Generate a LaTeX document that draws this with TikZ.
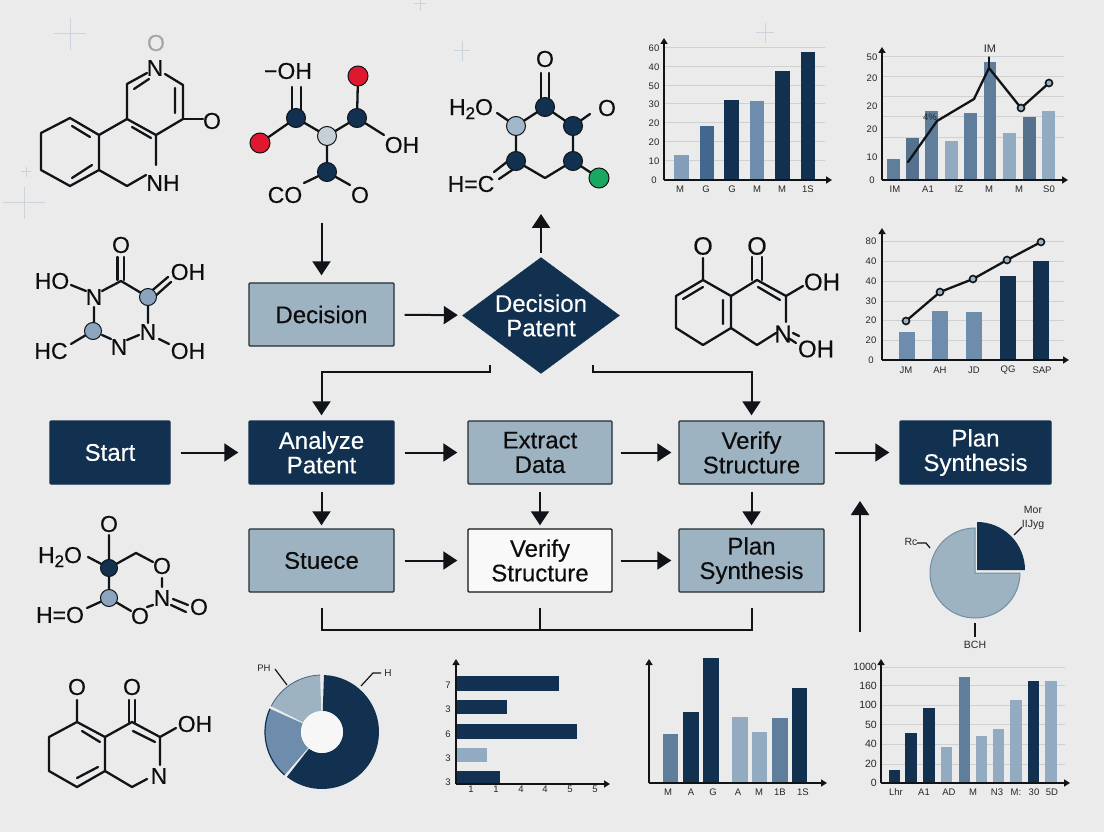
\documentclass[tikz,border=0pt]{standalone}
\usepackage{fontspec}
\setmainfont{Liberation Sans}
\newfontfamily\heavyfont[FakeBold=0.35]{Liberation Sans}
\usetikzlibrary{arrows.meta,shapes.geometric,calc}
\definecolor{cBg}{HTML}{EAEBEA}
\definecolor{cNavy}{HTML}{12304F}
\definecolor{cBox}{HTML}{9DB3C2}
\definecolor{cMid}{HTML}{5F7E9C}
\definecolor{cSteel}{HTML}{6E8CAC}
\definecolor{cDeep}{HTML}{44678E}
\definecolor{cLight}{HTML}{93ABC0}
\definecolor{cLine}{HTML}{101418}
\definecolor{cGrid}{HTML}{CFD1D1}
\definecolor{cPlus}{HTML}{CBD4DC}
\definecolor{cRed}{HTML}{E0182F}
\definecolor{cGreen}{HTML}{18A860}
\definecolor{cGrey}{HTML}{C5D0D8}
\definecolor{cAtom}{HTML}{8CA5BE}
\tikzset{
  flowbox/.style={draw=cLine!85!cBox,line width=1.4pt,fill=cBox,rounded corners=1pt,text=black!95,
    align=center,font=\heavyfont\fontsize{24}{24.5}\selectfont,inner sep=0pt},
  darkbox/.style={flowbox,draw=cNavy,fill=cNavy,text=white},
  whitebox/.style={flowbox,fill=white!70!cBg,draw=cLine},
  flow/.style={line width=2pt,draw=cLine,-{Triangle[length=14pt,width=18pt]},shorten >=10pt,shorten <=10pt},
  link/.style={line width=2pt,draw=cLine},
  bond/.style={line width=2.3pt,draw=cLine,line join=round,line cap=round},
  atomtext/.style={font=\heavyfont\fontsize{23}{23}\selectfont,inner sep=0pt,text=black!95},
  dot/.style={circle,draw=cLine,line width=1pt,minimum size=#1,inner sep=0pt},
  tick/.style={font=\fontsize{9.5}{10}\selectfont,inner sep=0pt,text=black!85},
  axis/.style={line width=1.6pt,draw=cLine,-{Triangle[length=6pt,width=7pt]}},
  gridl/.style={line width=1pt,draw=cGrid},
  plusmark/.style={line width=1pt,draw=cPlus},
  leader/.style={line width=1.2pt,draw=cLine},
}
\newcommand\bars[2]{\foreach \a/\b/\t/\c in {#2}{\fill[\c] (\a,\t) rectangle (\b,#1);}}
\newcommand\xlab[3]{\foreach \p/\s [count=\i] in {#3}{\node[tick] (#1x\i) at (\p,#2) {\s};}}
\newcommand\ylab[3]{\foreach \p/\s [count=\i] in {#3}{\node[tick] (#1y\i) at (#2,\p) {\s};}}
\newcommand\hgrid[3]{\foreach \p in {#3}{\draw[gridl] (#1,\p) -- (#2,\p);}}
\newcommand\plusat[4]{\draw[plusmark] (#1-#3,#2) -- (#1+#3,#2) (#1,#2-#4) -- (#1,#2+#4);}
\begin{document}
\begin{tikzpicture}[x=1pt,y=-1pt]
\useasboundingbox (0,0) rectangle (1104,832);
\fill[cBg] (0,0) rectangle (1104,832);
% faint marks
\plusat{70}{34}{16}{16}
\plusat{420}{4}{6}{7}
\plusat{462}{51}{8}{10}
\plusat{24}{203}{21}{16}
\plusat{26}{172}{5}{5}
\plusat{765}{33}{9}{10}

% ---------- molecule 1
\draw[bond] (99,135) -- (70,118) -- (41,133) -- (41,170) -- (70,186) -- (99,170) -- cycle;
\draw[bond] (72,126) -- (90,137) (72,178) -- (92,165);
\draw[bond] (99,135) -- (127,119) -- (127,84) -- (147,73);
\draw[bond] (134,89) -- (149,79);
\draw[bond] (165,74) -- (183,85) -- (183,119) -- (156,135) -- (127,119);
\draw[bond] (175,88) -- (175,113) (132,127) -- (151,138);
\draw[bond] (156,135) -- (156,165) (99,170) -- (127,186) -- (146,175);
\draw[bond] (183,119) -- (203,119);
\node[atomtext,text=gray!70] (m1o1) at (156,43) {O};
\node[atomtext] (m1n) at (155,68) {N};
\node[atomtext] (m1o2) at (212,121) {O};
\node[atomtext] (m1nh) at (163,183) {NH};

% ---------- molecule 2
\draw[bond] (260,143) -- (296,118) -- (327,136) -- (357,118) -- (358,76);
\draw[bond] (327,136) -- (327,172) -- (304,183) (327,172) -- (350,185);
\draw[bond] (357,118) -- (384,135);
\draw[bond] (292,87) -- (292,112) (301,87) -- (301,112);
\node[dot=19pt,fill=cNavy] (m2a) at (296,118) {};
\node[dot=19pt,fill=cNavy] (m2b) at (357,118) {};
\node[dot=19pt,fill=cNavy] (m2c) at (327,172) {};
\node[dot=19pt,fill=cGrey] (m2d) at (327,136) {};
\node[dot=20pt,fill=cRed] (m2e) at (260,143) {};
\node[dot=20pt,fill=cRed] (m2f) at (358,76) {};
\node[atomtext] (m2g) at (288,71) {−OH};
\node[atomtext] (m2h) at (402,145) {OH};
\node[atomtext] (m2i) at (285,195) {CO};
\node[atomtext] (m2j) at (360,195) {O};

% ---------- molecule 3
\draw[bond] (497,113) -- (516,126) -- (545,107) -- (573,126) -- (590,114);
\draw[bond] (573,126) -- (573,161) -- (545,178) -- (516,161) -- (516,126);
\draw[bond] (541,73) -- (541,100) (549,73) -- (549,100);
\draw[bond] (512,158) -- (494,172) (518,166) -- (499,179);
\draw[bond] (573,161) -- (599,178);
\node[dot=19pt,fill=cNavy] (m3a) at (545,107) {};
\node[dot=19pt,fill=cAtom!80!white] (m3b) at (516,126) {};
\node[dot=19pt,fill=cNavy] (m3c) at (573,126) {};
\node[dot=19pt,fill=cNavy] (m3d) at (516,161) {};
\node[dot=19pt,fill=cNavy] (m3e) at (573,161) {};
\node[dot=20pt,fill=cGreen] (m3f) at (599,178) {};
\node[atomtext] (m3g) at (545,59) {O};
\node[atomtext] (m3h) at (471,109) {H\raisebox{-4pt}{\fontsize{17}{17}\selectfont 2}O};
\node[atomtext] (m3i) at (607,108) {O};
\node[atomtext] (m3j) at (471,184) {H=C};

% ---------- molecule 4
\draw[bond] (117.5,257) -- (117.5,280) (124,257) -- (124,280);
\draw[bond] (102,291) -- (121,281) -- (148,297) -- (148,323);
\draw[bond] (71,285) -- (86,291);
\draw[bond] (148,294) -- (168,277) (152,299) -- (171,282);
\draw[bond] (94,307) -- (94,329) (102,335) -- (111,339) (127,340) -- (139,335);
\draw[bond] (159,339) -- (169,344) (86,335) -- (71,344);
\node[dot=17pt,fill=cAtom] (m4a) at (148,297) {};
\node[dot=17pt,fill=cAtom] (m4b) at (93,331) {};
\node[atomtext] (m4c) at (121,245) {O};
\node[atomtext] (m4d) at (94,297) {N};
\node[atomtext] (m4e) at (188,272) {OH};
\node[atomtext] (m4f) at (52,281) {HO};
\node[atomtext] (m4g) at (148,332) {N};
\node[atomtext] (m4h) at (188,351) {OH};
\node[atomtext] (m4i) at (119,347) {N};
\node[atomtext] (m4j) at (51,351) {HC};

% ---------- molecule 5
\draw[bond] (703,258) -- (703,280) -- (731,296) -- (731,328) -- (703,345) -- (676,328) -- (676,296) -- (703,280);
\draw[bond] (731,296) -- (757,280) -- (786,296) -- (786,322);
\draw[bond] (731,328) -- (757,345) -- (776,333);
\draw[bond] (752,257) -- (752,280) (762,257) -- (762,280);
\draw[bond] (683,299) -- (703,287) (723,300) -- (723,324) (758,287) -- (780,300);
\draw[bond] (786,296) -- (803,286);
\draw[bond] (793,333) -- (799,336) (790,339) -- (796,343);
\node[atomtext,font=\heavyfont\fontsize{25}{25}\selectfont] (m5a) at (703,246) {O};
\node[atomtext,font=\heavyfont\fontsize{25}{25}\selectfont] (m5b) at (757,246) {O};
\node[atomtext,font=\heavyfont\fontsize{24}{24}\selectfont] (m5c) at (822,282) {OH};
\node[atomtext,font=\heavyfont\fontsize{24}{24}\selectfont] (m5d) at (783,334) {N};
\node[atomtext,font=\heavyfont\fontsize{24}{24}\selectfont] (m5e) at (816,349) {OH};

% ---------- molecule 6
\draw[bond] (109,535) -- (109,598) -- (87,608) (109,598) -- (131,611);
\draw[bond] (88,557) -- (109,568) -- (136,553) -- (153,562);
\draw[bond] (162,578) -- (162,587) (147,607) -- (153,605);
\draw[bond] (173,599) -- (188,605) (171,605) -- (186,612);
\node[dot=17pt,fill=cNavy] (m6a) at (109,568) {};
\node[dot=17pt,fill=cAtom] (m6b) at (109,598) {};
\node[atomtext] (m6c) at (109,524) {O};
\node[atomtext] (m6d) at (60,557) {H\raisebox{-4pt}{\fontsize{17}{17}\selectfont 2}O};
\node[atomtext] (m6e) at (60,615) {H=O};
\node[atomtext] (m6f) at (162,566) {O};
\node[atomtext] (m6g) at (162,598) {N};
\node[atomtext] (m6h) at (140,616) {O};
\node[atomtext] (m6i) at (199,607) {O};

% ---------- molecule 7
\draw[bond] (77,700) -- (77,722) -- (105,737) -- (105,771) -- (77,787) -- (49,771) -- (49,737) -- (77,722);
\draw[bond] (105,737) -- (132,722) -- (160,737) -- (160,765);
\draw[bond] (105,771) -- (132,787) -- (147,779);
\draw[bond] (129,700) -- (129,722) (135,700) -- (135,722);
\draw[bond] (82,731) -- (100,742) (77,778) -- (98,767) (133,731) -- (155,742);
\draw[bond] (160,737) -- (176,728);
\node[atomtext] (m7a) at (77,687) {O};
\node[atomtext] (m7b) at (132,687) {O};
\node[atomtext] (m7c) at (195,724) {OH};
\node[atomtext] (m7d) at (159,776) {N};

% ---------- chart 1
\hgrid{664}{825}{48,67,86,104,123,142,161}
\bars{180}{674/689/155/cSteel!85!white,700/714/126/cDeep,724/739/100/cNavy,750/764/101/cSteel,775/790/71/cNavy,801/815/52/cNavy}
\coordinate (c1o) at (664,180); \coordinate (c1t) at (664,38); \coordinate (c1r) at (832,180);
\draw[axis] (c1o) -- (c1t); \draw[axis] (c1o) -- (c1r);
\ylab{c1}{654}{48/60,67/40,86/50,104/30,123/20,142/20,161/10,180/0}
\xlab{c1}{189}{680/M,706/G,732/G,757/M,782/M,808/1S}

% ---------- chart 2
\hgrid{882}{1064}{57,77,97,117,138}
\bars{180}{887/900/159/cMid,906/919/138/cMid!90!black,925/938/111/cMid,945/958/141/cLight,964/977/113/cMid,984/996/62/cMid,1003/1016/133/cLight,1023/1036/117/cMid!90!black,1042/1055/111/cLight}
\coordinate (c2o) at (882,180); \coordinate (c2t) at (882,47); \coordinate (c2r) at (1068,180);
\draw[axis] (c2o) -- (c2t); \draw[axis] (c2o) -- (c2r);
\draw[bond] (908,162) -- (937,121) -- (974,99) -- (989,68) -- (1021,108) -- (1049,83);
\draw[bond,line width=1.2pt] (989,57) -- (989,68);
\node[dot=7pt,fill=cBox,line width=1.6pt] (c2p1) at (1021,108) {};
\node[dot=7pt,fill=cBox,line width=1.6pt] (c2p2) at (1049,83) {};
\node[tick,font=\fontsize{11}{11}\selectfont] (c2m) at (990,49) {IM};
\node[tick] (c2n) at (930,117) {4\%};
\ylab{c2}{872}{57/50,78/20,106/20,129/20,157/10,180/0}
\xlab{c2}{189}{895/IM,928/A1,959/IZ,989/M,1019/M,1049/S0}

% ---------- chart 3
\hgrid{882}{1064}{241,261,281,301,320,340}
\bars{360}{899/915/332/cSteel,932/948/311/cSteel,966/982/312/cSteel,1000/1016/276/cNavy,1033/1049/261/cNavy}
\coordinate (c3o) at (882,360); \coordinate (c3t) at (882,228); \coordinate (c3r) at (1069,360);
\draw[axis] (c3o) -- (c3t); \draw[axis] (c3o) -- (c3r);
\draw[bond] (906,321) -- (940,292) -- (973,279) -- (1007,260) -- (1041,242);
\node[dot=7pt,fill=cBox,line width=1.6pt] (c3p1) at (906,321) {};
\node[dot=7pt,fill=cBox,line width=1.6pt] (c3p2) at (940,292) {};
\node[dot=7pt,fill=cBox,line width=1.6pt] (c3p3) at (973,279) {};
\node[dot=7pt,fill=cBox,line width=1.6pt] (c3p4) at (1007,260) {};
\node[dot=7pt,fill=cBox,line width=1.6pt] (c3p5) at (1041,242) {};
\ylab{c3}{871}{241/80,261/40,281/40,301/30,320/20,340/20,360/0}
\xlab{c3}{370}{906/JM,940/AH,974/JD,1008/QG,1042/SAP}

% ---------- horizontal bars
\fill[cNavy] (456,676) rectangle (559,691);
\fill[cNavy] (456,700) rectangle (507,714);
\fill[cNavy] (456,724) rectangle (577,739);
\fill[cLight] (456,748) rectangle (487,762);
\fill[cNavy] (456,771) rectangle (500,784);
\coordinate (c4o) at (456,784); \coordinate (c4t) at (456,659); \coordinate (c4r) at (610,784);
\draw[axis] (c4o) -- (c4t); \draw[axis] (c4o) -- (c4r);
\ylab{c4}{448}{685/7,709/3,734/6,758/3,782/3}
\xlab{c4}{789}{471/1,496/1,521/4,545/4,570/5,595/5}

% ---------- chart 5
\bars{783}{663/678/734/cMid,683/699/712/cNavy,703/719/658/cNavy,732/748/717/cLight,752/767/732/cLight,772/788/718/cMid,792/807/688/cNavy}
\coordinate (c5o) at (649,783); \coordinate (c5t) at (649,659); \coordinate (c5r) at (827,783);
\draw[axis,line width=2pt] (c5o) -- (c5t); \draw[axis,line width=2pt] (c5o) -- (c5r);
\xlab{c5}{792}{668/M,691/A,713/G,738/A,759/M,780/1B,803/1S}

% ---------- chart 6
\hgrid{881}{1065}{667,685,705,724,744,764}
\bars{783}{889/900/770/cNavy,905/917/733/cNavy,923/935/708/cNavy,941/952/747/cLight,959/970/677/cMid,976/987/736/cLight,993/1004/729/cLight,1010/1022/700/cLight,1028/1039/681/cNavy,1045/1057/681/cLight}
\coordinate (c6o) at (881,783); \coordinate (c6t) at (881,659); \coordinate (c6r) at (1070,783);
\draw[axis] (c6o) -- (c6t); \draw[axis] (c6o) -- (c6r);
\foreach \p/\s [count=\i] in {667/1000,686/160,705/100,725/50,744/40,764/20,783/0}{
  \node[tick,anchor=east,font=\fontsize{10.5}{11}\selectfont] (c6y\i) at (877,\p) {\s};}
\xlab{c6}{792}{896/Lhr,924/A1,949/AD,973/M,997/N3,1016/M:,1034/30,1052/5D}

% ---------- donut
\begin{scope}[shift={(322,732)},x=1pt,y=1pt]
  \fill[cNavy] (88:57) arc[start angle=88,end angle=-128,radius=57] -- (-128:21) arc[start angle=-128,end angle=88,radius=21] -- cycle;
  \fill[cSteel] (-131:57) arc[start angle=229,end angle=156,radius=57] -- (156:21) arc[start angle=156,end angle=229,radius=21] -- cycle;
  \draw[cNavy,line width=1.2pt] (-131:57) arc[start angle=229,end angle=156,radius=57];
  \fill[cBox] (153:57) arc[start angle=153,end angle=92,radius=57] -- (92:21) arc[start angle=92,end angle=153,radius=21] -- cycle;
  \draw[cNavy!60!cBox,line width=.8pt] (153:57) arc[start angle=153,end angle=92,radius=57];
  \fill[white!60!cBg] (0,0) circle[radius=21];
\end{scope}
\coordinate (d1) at (361,686); \coordinate (d2) at (373,673); \coordinate (d3) at (381,673);
\coordinate (d4) at (275,669); \coordinate (d5) at (287,685);
\draw[leader] (d1) -- (d2) -- (d3);
\draw[leader] (d4) -- (d5);
\node[tick,font=\fontsize{10}{10}\selectfont] (dH) at (388,673) {H};
\node[tick] (dP) at (264,668) {PH};

% ---------- pie
\begin{scope}[shift={(975,573)},x=1pt,y=1pt]
  \fill[cBox,draw=cMid!70!cBox,line width=1pt] (0,0) -- (0,45) arc[start angle=90,end angle=360,radius=45] -- cycle;
\end{scope}
\begin{scope}[shift={(977,570)},x=1pt,y=1pt]
  \fill[cNavy] (0,0) -- (48,0) arc[start angle=0,end angle=90,radius=48] -- cycle;
\end{scope}
\coordinate (p1) at (1014,535); \coordinate (p2) at (1022,527);
\coordinate (p3) at (917,543); \coordinate (p4) at (926,543); \coordinate (p5) at (930,548);
\coordinate (p6) at (975,623); \coordinate (p7) at (975,637);
\draw[leader] (p1) -- (p2);
\draw[leader] (p3) -- (p4) -- (p5);
\draw[leader] (p6) -- (p7);
\node[tick,font=\fontsize{10.5}{11}\selectfont] (pa) at (1033,510) {Mor};
\node[tick,font=\fontsize{10.5}{11}\selectfont] (pb) at (1033,525) {IIJyg};
\node[tick,font=\fontsize{10.5}{11}\selectfont] (pc) at (911,542) {Rc};
\node[tick,font=\fontsize{10.5}{11}\selectfont] (pd) at (975,645) {BCH};

% ---------- flow chart nodes
\node[flowbox,minimum width=145pt,minimum height=63pt] (decision) at (321.5,314.5) {Decision};
\node[diamond,fill=cNavy,draw=cNavy,inner sep=0pt,minimum width=157pt,minimum height=116pt,aspect=1.35,
  label={[text=white,align=center,font=\heavyfont\fontsize{24}{24.5}\selectfont]center:Decision\\Patent}] (dia) at (541,315.5) {};
\node[darkbox,minimum width=120pt,minimum height=63pt] (start) at (110,452.5) {Start};
\node[darkbox,minimum width=145pt,minimum height=63pt] (analyze) at (321.5,452.5) {Analyze\\Patent};
\node[flowbox,minimum width=144pt,minimum height=63pt] (extract) at (540,452.5) {Extract\\Data};
\node[flowbox,minimum width=145pt,minimum height=63pt] (verify) at (751.5,452.5) {Verify\\Structure};
\node[darkbox,minimum width=151pt,minimum height=63pt] (plan) at (975.5,452.5) {Plan\\Synthesis};
\node[flowbox,minimum width=145pt,minimum height=63pt] (stuece) at (321.5,560.5) {Stuece};
\node[whitebox,minimum width=144pt,minimum height=63pt] (verifyb) at (540,560.5) {Verify\\Structure};
\node[flowbox,minimum width=145pt,minimum height=63pt] (planb) at (751.5,560.5) {Plan\\Synthesis};

% ---------- flow chart connectors
\coordinate (in1) at (321.5,223);
\coordinate (up1) at (541,214);
\coordinate (dl) at (490,365); \coordinate (dlb) at (490,372);
\coordinate (dr) at (593,365); \coordinate (drb) at (593,372);
\coordinate (upa) at (860,632); \coordinate (upb) at (860,501);
\coordinate (bus) at (540,630);
\draw[flow,shorten <=0pt,shorten >=7pt] (in1) -- (decision.north);
\draw[flow,shorten >=5pt] (decision) -- (dia);
\draw[flow,shorten <=4pt,shorten >=0pt] (dia.north) -- (up1);
\draw[flow,shorten <=0pt,shorten >=5pt] (dl) -- (dlb) -- (dlb -| analyze) -- (analyze.north);
\draw[flow,shorten <=0pt,shorten >=5pt] (dr) -- (drb) -- (drb -| verify) -- (verify.north);
\draw[flow] (start) -- (analyze);
\draw[flow] (analyze) -- (extract);
\draw[flow,shorten <=8pt,shorten >=7pt] (extract) -- (verify);
\draw[flow] (verify) -- (plan);
\draw[flow,shorten <=7pt,shorten >=3pt] (analyze) -- (stuece);
\draw[flow,shorten <=7pt,shorten >=3pt] (extract) -- (verifyb);
\draw[flow,shorten <=7pt,shorten >=3pt] (verify) -- (planb);
\draw[flow] (stuece) -- (verifyb);
\draw[flow,shorten <=8pt,shorten >=7pt] (verifyb) -- (planb);
\draw[link,line join=miter,shorten <=15pt,shorten >=15pt] (stuece.south) -- (stuece.south |- bus) -- (planb.south |- bus) -- (planb.south);
\draw[link,shorten <=15pt] (verifyb.south) -- (bus);
\draw[flow,shorten <=0pt,shorten >=0pt] (upa) -- (upb);
\end{tikzpicture}
\end{document}
